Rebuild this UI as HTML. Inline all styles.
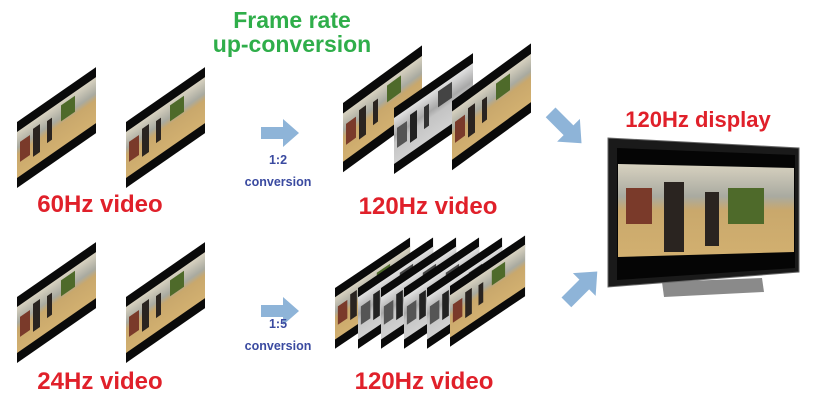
<!DOCTYPE html>
<html><head><meta charset="utf-8"><style>
html,body{margin:0;padding:0;background:#fff;}
svg{display:block;}
text{font-family:"Liberation Sans",sans-serif;font-weight:bold;}
</style></head><body>
<svg width="815" height="410" viewBox="0 0 815 410" xmlns="http://www.w3.org/2000/svg">
<defs>
<linearGradient id="pc" x1="0" y1="0" x2="0" y2="1">
<stop offset="0" stop-color="#d8d2c0"/><stop offset="0.35" stop-color="#a9aaa0"/><stop offset="0.5" stop-color="#c9a86c"/><stop offset="1" stop-color="#d2b070"/></linearGradient>
<linearGradient id="pg" x1="0" y1="0" x2="0" y2="1">
<stop offset="0" stop-color="#e2e2e2"/><stop offset="0.4" stop-color="#a8a8a8"/><stop offset="0.55" stop-color="#c4c4c4"/><stop offset="1" stop-color="#d0d0d0"/></linearGradient>
<g id="fc">
<rect width="79" height="66" fill="#0a0a0a"/>
<rect y="10" width="79" height="46" fill="url(#pc)"/>
<rect x="3" y="22" width="10" height="20" fill="#7a3a2a"/>
<rect x="16" y="18" width="7" height="28" fill="#2a2420"/>
<rect x="30" y="20" width="5" height="22" fill="#2a2420"/>
<rect x="44" y="14" width="14" height="16" fill="#4e6a2a"/>
</g>
<g id="fg">
<rect width="79" height="66" fill="#0a0a0a"/>
<rect y="10" width="79" height="46" fill="url(#pg)"/>
<rect x="3" y="22" width="10" height="20" fill="#555"/>
<rect x="16" y="18" width="7" height="28" fill="#222"/>
<rect x="30" y="20" width="5" height="22" fill="#333"/>
<rect x="44" y="14" width="14" height="16" fill="#444"/>
</g>
<g id="ar"><polygon points="0,8 22,8 22,0 38,14 22,28 22,20 0,20" fill="#8eb4d8"/></g>
</defs>

<text x="292" y="28" font-size="23" fill="#2fae4a" text-anchor="middle">Frame rate</text>
<text x="292" y="52" font-size="23" fill="#2fae4a" text-anchor="middle">up-conversion</text>

<use href="#fc" transform="translate(17,122) skewY(-34.8)"/>
<use href="#fc" transform="translate(126,122) skewY(-34.8)"/>
<text x="100" y="212" font-size="24" fill="#e0202a" text-anchor="middle">60Hz video</text>

<use href="#fc" transform="translate(17,297) skewY(-34.8)"/>
<use href="#fc" transform="translate(126,297) skewY(-34.8)"/>
<text x="100" y="389" font-size="24" fill="#e0202a" text-anchor="middle">24Hz video</text>

<use href="#ar" transform="translate(261,119)"/>
<text x="278" y="164" font-size="12.5" fill="#3a4aa0" text-anchor="middle">1:2</text>
<text x="278" y="186" font-size="12.5" fill="#3a4aa0" text-anchor="middle">conversion</text>
<use href="#ar" transform="translate(261,297)"/>
<text x="278" y="328" font-size="12.5" fill="#3a4aa0" text-anchor="middle">1:5</text>
<text x="278" y="350" font-size="12.5" fill="#3a4aa0" text-anchor="middle">conversion</text>

<use href="#fc" transform="translate(343,103) scale(1,1.05) skewY(-34.8)"/>
<use href="#fg" transform="translate(394,108) scale(1,1.0) skewY(-34.8)"/>
<use href="#fc" transform="translate(452,101) scale(1,1.05) skewY(-34.8)"/>
<text x="428" y="214" font-size="24" fill="#e0202a" text-anchor="middle">120Hz video</text>

<use href="#fc" transform="translate(335,288) scale(0.95,0.92) skewY(-34.8)"/>
<use href="#fg" transform="translate(358,288) scale(0.95,0.92) skewY(-34.8)"/>
<use href="#fg" transform="translate(381,288) scale(0.95,0.92) skewY(-34.8)"/>
<use href="#fg" transform="translate(404,288) scale(0.95,0.92) skewY(-34.8)"/>
<use href="#fg" transform="translate(427,288) scale(0.95,0.92) skewY(-34.8)"/>
<use href="#fc" transform="translate(450,286) scale(0.95,0.92) skewY(-34.8)"/>
<text x="424" y="389" font-size="24" fill="#e0202a" text-anchor="middle">120Hz video</text>

<use href="#ar" transform="translate(562,101) rotate(45) scale(1.15)"/>
<use href="#ar" transform="translate(555,291) rotate(-45) scale(1.15)"/>

<text x="698" y="127" font-size="22" fill="#e0202a" text-anchor="middle">120Hz display</text>

<polygon points="662,282 762,278 764,292 664,297" fill="#8a8a8a"/>
<polygon points="608,138 799,148 799,272 608,287" fill="#1a1a1a" stroke="#666" stroke-width="1"/>
<polygon points="617,148 795,155 795,268 617,280" fill="#050505"/>
<polygon points="618,164 794,168 794,252 618,257" fill="url(#pc)"/>
<rect x="626" y="188" width="26" height="36" fill="#7a3a2a"/>
<rect x="664" y="182" width="20" height="70" fill="#2a2420"/>
<rect x="705" y="192" width="14" height="54" fill="#2a2420"/>
<rect x="728" y="188" width="36" height="36" fill="#4e6a2a"/>
</svg>
</body></html>
